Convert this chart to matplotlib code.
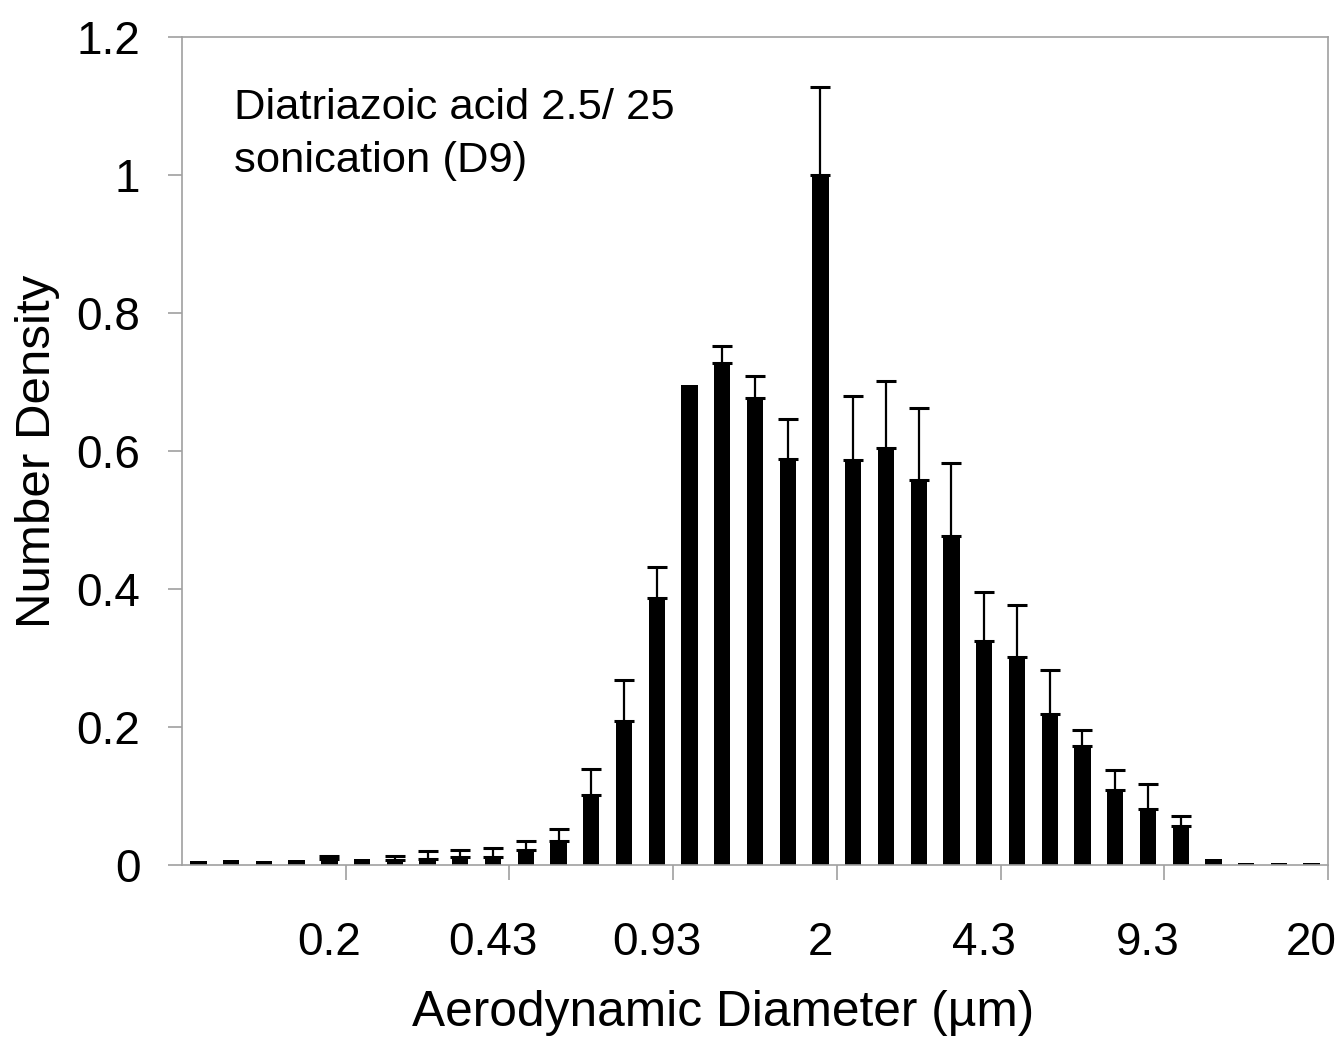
import numpy as np
import matplotlib
matplotlib.use('Agg')
import matplotlib.pyplot as plt

plt.rcParams['font.family'] = ['Liberation Sans', 'DejaVu Sans']

# bar heights (number density) and upper error, one per size bin
density = [0.006, 0.007, 0.006, 0.007, 0.008, 0.008, 0.007, 0.009, 0.011, 0.012,
           0.021, 0.035, 0.102, 0.209, 0.387, 0.695, 0.727, 0.677, 0.589, 1.000,
           0.587, 0.604, 0.558, 0.477, 0.325, 0.301, 0.219, 0.172, 0.109, 0.081,
           0.056, 0.008, 0.003, 0.003, 0.003]
err_up = [0.0, 0.0, 0.0, 0.0, 0.005, 0.0, 0.006, 0.011, 0.011, 0.012,
          0.014, 0.017, 0.037, 0.059, 0.045, 0.0, 0.025, 0.031, 0.058, 0.128,
          0.093, 0.097, 0.105, 0.106, 0.071, 0.076, 0.063, 0.024, 0.028, 0.036,
          0.015, 0.0, 0.0, 0.0, 0.0]
tick_labels = ['0.2', '0.43', '0.93', '2', '4.3', '9.3', '20']
label_bins = [4, 9, 14, 19, 24, 29, 34]

grey = '#a0a0a0'
xx = np.arange(len(density))
dens = np.array(density)
err = np.array(err_up)

fig = plt.figure(figsize=(13.42, 10.4), dpi=100)
ax = fig.add_axes([0.1356, 0.1683, 0.854, 0.7961])

ax.bar(xx, dens, width=0.5, color='black', zorder=2)
# only the upper half of the error bar is drawn
m = err > 0
ax.errorbar(xx[m], dens[m] + err[m] / 2, yerr=err[m] / 2, fmt='none',
            ecolor='black', elinewidth=1.6, capsize=7.5, capthick=2.2, zorder=1)

ax.set_xlim(-0.5, len(density) - 0.5)
ax.set_ylim(0, 1.2)

for s in ax.spines.values():
    s.set_color(grey)
    s.set_linewidth(1.2)

# tick marks sit between bins, labels sit under the bin
ax.set_xticks(np.array(label_bins) + 0.5)
ax.set_xticklabels([])
ax.set_xticks(label_bins, minor=True)
ax.set_xticklabels(tick_labels, minor=True)
ax.tick_params(axis='x', which='major', length=11, width=1.2, color=grey, direction='out')
ax.tick_params(axis='x', which='minor', length=0, pad=40, labelsize=33)

yt = [0, 0.2, 0.4, 0.6, 0.8, 1.0, 1.2]
ax.set_yticks(yt)
ax.set_yticklabels(['0', '0.2', '0.4', '0.6', '0.8', '1', '1.2'])
ax.tick_params(axis='y', length=10, width=1.2, color=grey, direction='out', pad=20, labelsize=33)

ax.set_xlabel('Aerodynamic Diameter (µm)', fontsize=35.7)
ax.xaxis.set_label_coords(0.472, -0.151)
ax.set_ylabel('Number Density', fontsize=35.5, labelpad=12)

ax.text(0.045, 0.938, 'Diatriazoic acid 2.5/ 25\nsonication (D9)', transform=ax.transAxes,
        fontsize=31.3, va='top', ha='left', linespacing=1.42)

fig.savefig('out.png', dpi=100)
